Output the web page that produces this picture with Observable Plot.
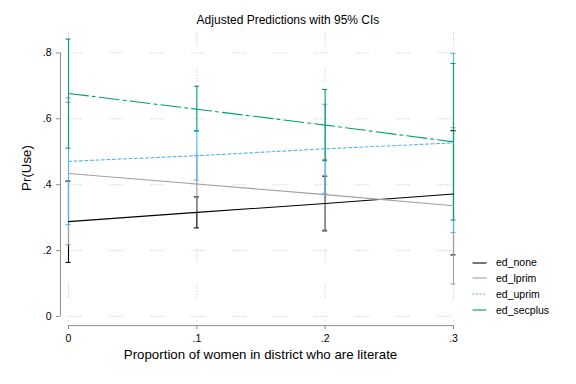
<!DOCTYPE html>
<html>
<head>
<meta charset="utf-8">
<script src="https://cdn.jsdelivr.net/npm/d3@7"></script>
<script src="https://cdn.jsdelivr.net/npm/@observablehq/plot@0.6"></script>
<style>
  html, body { margin: 0; padding: 0; background: #fff; }
  #wrap { position: relative; width: 576px; height: 384px; font-family: "Liberation Sans", Arial, Helvetica, sans-serif; color: #000; }
  #wrap svg { position: absolute; left: 0; top: 0; }
  .abs { position: absolute; white-space: nowrap; line-height: 1; }
</style>
</head>
<body>
<div id="wrap"></div>
<script>
// ---- data ----
const xs = [0, 0.1, 0.2, 0.3];
const xTickLabels = ["0", ".1", ".2", ".3"];
const yTicks = [0, 0.2, 0.4, 0.6, 0.8];
const yTickLabels = ["0", ".2", ".4", ".6", ".8"];
const seriesNames = ["ed_none", "ed_lprim", "ed_uprim", "ed_secplus"];

const edNone     = [0.288, 0.316, 0.343, 0.372];
const edNoneLo   = [0.164, 0.269, 0.260, 0.187];
const edNoneHi   = [0.411, 0.363, 0.426, 0.564];

const edLprim    = [0.434, 0.402, 0.370, 0.336];
const edLprimLo  = [0.218, 0.315, 0.263, 0.099];
const edLprimHi  = [0.650, 0.489, 0.477, 0.573];

const edUprim    = [0.471, 0.488, 0.509, 0.527];
const edUprimLo  = [0.279, 0.414, 0.374, 0.255];
const edUprimHi  = [0.663, 0.562, 0.644, 0.799];

const edSecplus   = [0.677, 0.629, 0.581, 0.530];
const edSecplusLo = [0.511, 0.564, 0.473, 0.293];
const edSecplusHi = [0.842, 0.699, 0.689, 0.768];

const titleText = "Adjusted Predictions with 95% CIs";
const xTitle = "Proportion of women in district who are literate";
const yTitle = "Pr(Use)";

// ---- styles ----
const colors = ["#000000", "#a0a0a0", "#56b4e9", "#009e73"];
const dashes = [null, null, "3,2.5", "20,4,3,4"];
const font = '"Liberation Sans", Arial, Helvetica, sans-serif';

const est = [edNone, edLprim, edUprim, edSecplus];
const los = [edNoneLo, edLprimLo, edUprimLo, edSecplusLo];
const his = [edNoneHi, edLprimHi, edUprimHi, edSecplusHi];

const rows = [];
seriesNames.forEach((s, k) => xs.forEach((x, i) => rows.push({series: s, k, x, y: est[k][i], lo: los[k][i], hi: his[k][i]})));

const yMin = -0.02, yMax = 0.862;
const axisColor = "#8f8f8f";
const gridColor = "#dadada";

const marks = [
  Plot.gridX(xs, {stroke: gridColor, strokeOpacity: 1, strokeWidth: 0.9, strokeDasharray: "2,1,2,1,2,1,2,1,2,22"}),
  Plot.gridY(yTicks, {stroke: gridColor, strokeOpacity: 1, strokeWidth: 0.9, strokeDasharray: "2,1,2,1,2,1,2,1,2,27"}),
  Plot.ruleX([0], {y1: yTicks[0], y2: yTicks[yTicks.length - 1], dx: -8, stroke: axisColor}),
  Plot.ruleY([yMin], {x1: xs[0], x2: xs[xs.length - 1], dy: 2.5, stroke: axisColor}),
  Plot.axisY(yTicks, {tickFormat: d => yTickLabels[yTicks.indexOf(d)], tickSize: 4, dx: -8, stroke: axisColor, fill: "#000", fontSize: 10.5, label: null}),
  Plot.axisX(xs, {tickFormat: d => xTickLabels[xs.indexOf(d)], tickSize: 4, dy: 2.5, stroke: axisColor, fill: "#000", fontSize: 10.5, label: null})
];

seriesNames.forEach((s, k) => {
  const d = rows.filter(r => r.k === k);
  marks.push(Plot.ruleX(d, {x: "x", y1: "lo", y2: "hi", stroke: colors[k], strokeWidth: 1.1}));
  marks.push(Plot.ruleY(d, {y: "hi", x1: "x", x2: "x", insetLeft: -2.5, insetRight: -2.5, stroke: colors[k], strokeWidth: 1.1}));
  marks.push(Plot.ruleY(d, {y: "lo", x1: "x", x2: "x", insetLeft: -2.5, insetRight: -2.5, stroke: colors[k], strokeWidth: 1.1}));
});
seriesNames.forEach((s, k) => {
  const d = rows.filter(r => r.k === k);
  marks.push(Plot.line(d, {x: "x", y: "y", stroke: colors[k], strokeWidth: 1.1, strokeDasharray: dashes[k] || undefined}));
});

const chart = Plot.plot({
  width: 576,
  height: 384,
  marginLeft: 68,
  marginRight: 123,
  marginTop: 32,
  marginBottom: 61.4,
  x: {domain: [0, 0.3]},
  y: {domain: [yMin, yMax]},
  style: {fontFamily: font, fontSize: "10.5px", color: "#000", background: "transparent", overflow: "visible"},
  marks
});

const wrap = document.getElementById("wrap");
wrap.appendChild(chart);

function addText(txt, css) {
  const el = document.createElement("div");
  el.className = "abs";
  el.textContent = txt;
  Object.assign(el.style, css);
  wrap.appendChild(el);
  return el;
}
addText(titleText, {left: "288px", top: "14.4px", fontSize: "12px", transform: "translateX(-50%)"});
addText(xTitle, {left: "260.5px", top: "348px", fontSize: "13.3px", transform: "translateX(-50%)"});
addText(yTitle, {left: "27px", top: "168px", fontSize: "13.3px", transform: "translate(-50%,-50%) rotate(-90deg)"});

// legend
const legendY = [262.7, 278.3, 294.3, 310];
seriesNames.forEach((s, k) => {
  const row = document.createElement("div");
  row.className = "abs";
  Object.assign(row.style, {left: "472px", top: (legendY[k] - 6) + "px", height: "12px", display: "flex", alignItems: "center", fontSize: "10.5px"});
  const sv = document.createElementNS("http://www.w3.org/2000/svg", "svg");
  sv.setAttribute("width", "15"); sv.setAttribute("height", "12");
  sv.style.position = "static";
  const ln = document.createElementNS("http://www.w3.org/2000/svg", "line");
  ln.setAttribute("x1", "0.5"); ln.setAttribute("x2", "14.5");
  ln.setAttribute("y1", "6"); ln.setAttribute("y2", "6");
  ln.setAttribute("stroke", colors[k]); ln.setAttribute("stroke-width", "1.1");
  if (dashes[k] && k === 2) ln.setAttribute("stroke-dasharray", "2,1.5");
  sv.appendChild(ln);
  row.appendChild(sv);
  const t = document.createElement("span");
  t.textContent = s;
  t.style.marginLeft = "9px";
  row.appendChild(t);
  wrap.appendChild(row);
});
</script>
</body>
</html>
